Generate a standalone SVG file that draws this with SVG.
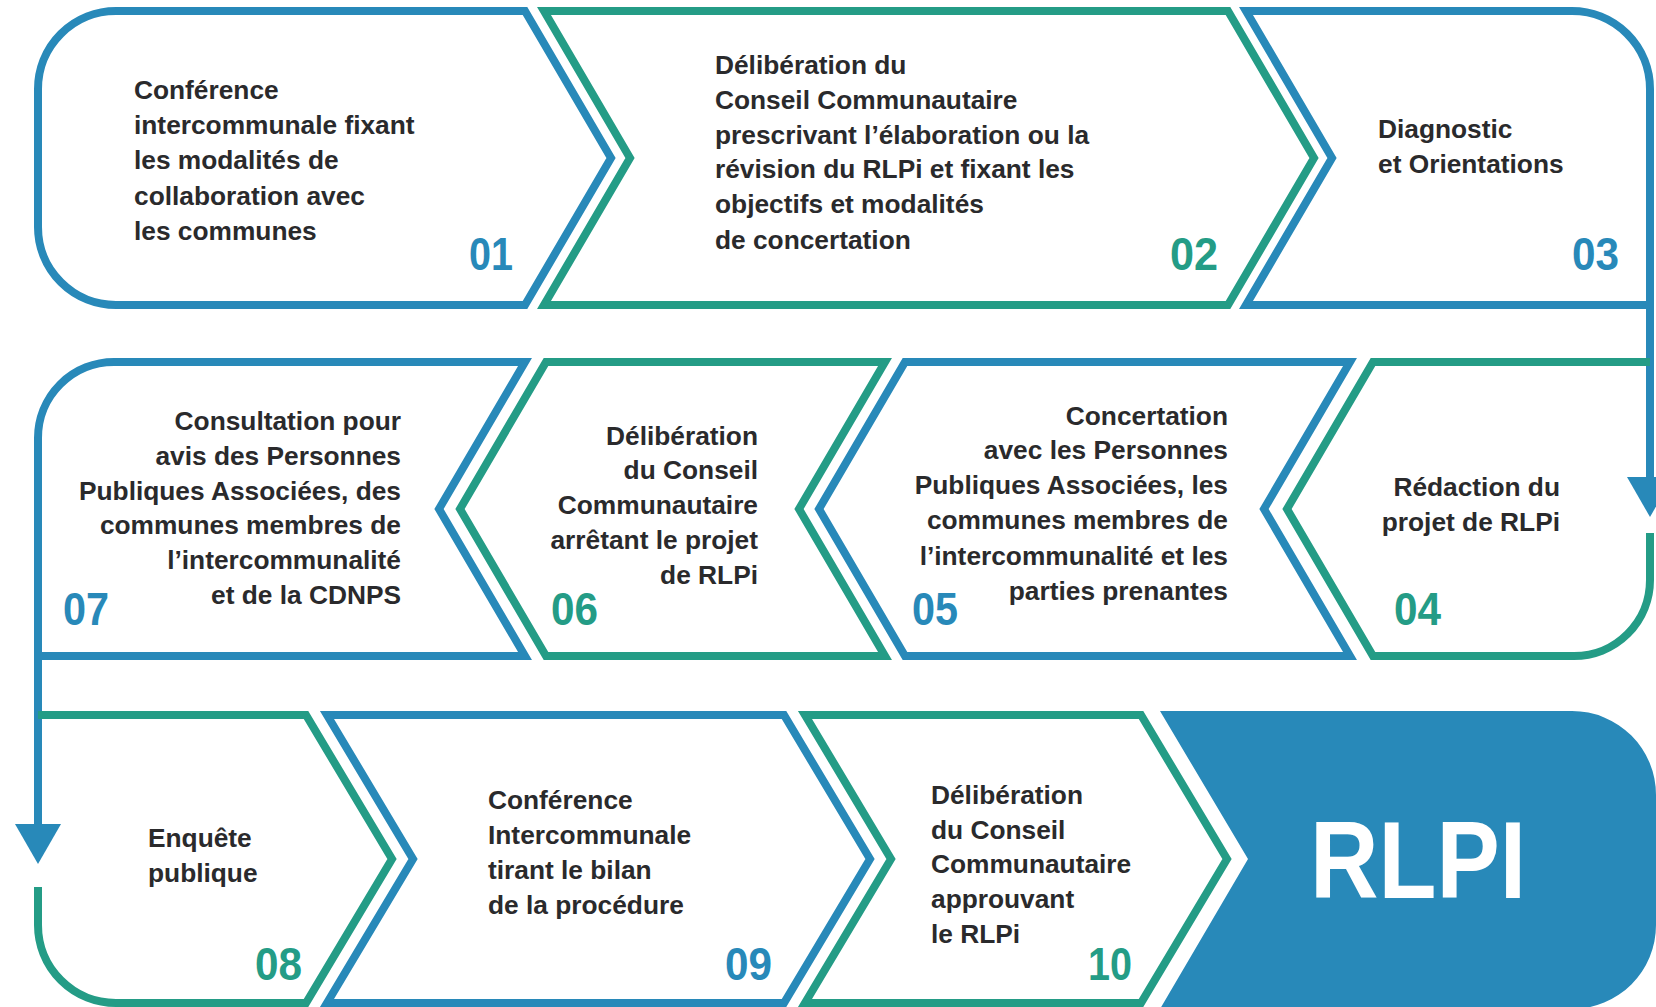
<svg xmlns="http://www.w3.org/2000/svg" width="1656" height="1007" viewBox="0 0 1656 1007">
<style>
.b{fill:none;stroke:#2889b9;stroke-width:8;stroke-linejoin:miter;stroke-miterlimit:10}
.g{fill:none;stroke:#249c86;stroke-width:8;stroke-linejoin:miter;stroke-miterlimit:10}
.t{font-family:"Liberation Sans",Arial,sans-serif;font-weight:bold;font-size:26.3px;fill:#2a2a2c}
.r{text-anchor:end}
.n{font-family:"Liberation Sans",Arial,sans-serif;font-weight:bold;font-size:46px}
.nb{fill:#2889b9}.ng{fill:#249c86}
</style>
<defs>
<marker id="arr" markerUnits="userSpaceOnUse" viewBox="0 -23 40 46" markerWidth="40" markerHeight="46" refX="4" refY="0" orient="auto">
<path d="M0,-23 L40,0 L0,23 Z" fill="#2889b9"/>
</marker>
</defs>
<rect width="1656" height="1007" fill="#ffffff"/>

<g id="connectors">
<line x1="1650" y1="300" x2="1650" y2="481" stroke="#2889b9" stroke-width="8" marker-end="url(#arr)"/>
<line x1="38" y1="652" x2="38" y2="828" stroke="#2889b9" stroke-width="8" marker-end="url(#arr)"/>
</g>

<g id="n01">
<path class="b" d="M525,11 L611,158 L525,305 L116,305 A78,78 0 0 1 38,227 L38,89 A78,78 0 0 1 116,11 Z"/>
<text class="t" x="134" y="99">Conférence</text>
<text class="t" x="134" y="134">intercommunale fixant</text>
<text class="t" x="134" y="169">les modalités de</text>
<text class="t" x="134" y="205">collaboration avec</text>
<text class="t" x="134" y="240">les communes</text>
<text class="n nb" x="469" y="270" textLength="44" lengthAdjust="spacingAndGlyphs">01</text>
</g>

<g id="n02">
<path class="g" d="M544,11 L1228,11 L1314,158 L1228,305 L544,305 L630,158 Z"/>
<text class="t" x="715" y="74">Délibération du</text>
<text class="t" x="715" y="109">Conseil Communautaire</text>
<text class="t" x="715" y="144">prescrivant l’élaboration ou la</text>
<text class="t" x="715" y="178">révision du RLPi et fixant les</text>
<text class="t" x="715" y="213">objectifs et modalités</text>
<text class="t" x="715" y="249">de concertation</text>
<text class="n ng" x="1170" y="270" textLength="48" lengthAdjust="spacingAndGlyphs">02</text>
</g>

<g id="n03">
<path class="b" d="M1650,305 L1246,305 L1332,158 L1246,11 L1572,11 A78,78 0 0 1 1650,89 Z"/>
<text class="t" x="1378" y="138">Diagnostic</text>
<text class="t" x="1378" y="173">et Orientations</text>
<text class="n nb" x="1572" y="270" textLength="47" lengthAdjust="spacingAndGlyphs">03</text>
</g>

<g id="n04">
<path class="g" d="M1650,533 L1650,580 A76,76 0 0 1 1574,656 L1373,656 L1287,509 L1373,362 L1650,362"/>
<text class="t r" x="1560" y="496">Rédaction du</text>
<text class="t r" x="1560" y="531">projet de RLPi</text>
<text class="n ng" x="1394" y="625" textLength="47" lengthAdjust="spacingAndGlyphs">04</text>
</g>

<g id="n05">
<path class="b" d="M1350,362 L1264,509 L1350,656 L905,656 L819,509 L905,362 Z"/>
<text class="t r" x="1228" y="425">Concertation</text>
<text class="t r" x="1228" y="459">avec les Personnes</text>
<text class="t r" x="1228" y="494">Publiques Associées, les</text>
<text class="t r" x="1228" y="529">communes membres de</text>
<text class="t r" x="1228" y="565">l’intercommunalité et les</text>
<text class="t r" x="1228" y="600">parties prenantes</text>
<text class="n nb" x="912" y="625" textLength="46" lengthAdjust="spacingAndGlyphs">05</text>
</g>

<g id="n06">
<path class="g" d="M885,362 L799,509 L885,656 L546,656 L460,509 L546,362 Z"/>
<text class="t r" x="758" y="445">Délibération</text>
<text class="t r" x="758" y="479">du Conseil</text>
<text class="t r" x="758" y="514">Communautaire</text>
<text class="t r" x="758" y="549">arrêtant le projet</text>
<text class="t r" x="758" y="584">de RLPi</text>
<text class="n ng" x="551" y="625" textLength="47" lengthAdjust="spacingAndGlyphs">06</text>
</g>

<g id="n07">
<path class="b" d="M38,656 L525,656 L439,509 L525,362 L114,362 A76,76 0 0 0 38,438 Z"/>
<text class="t r" x="401" y="430">Consultation pour</text>
<text class="t r" x="401" y="465">avis des Personnes</text>
<text class="t r" x="401" y="500">Publiques Associées, des</text>
<text class="t r" x="401" y="534">communes membres de</text>
<text class="t r" x="401" y="569">l’intercommunalité</text>
<text class="t r" x="401" y="604">et de la CDNPS</text>
<text class="n nb" x="63" y="625" textLength="46" lengthAdjust="spacingAndGlyphs">07</text>
</g>

<g id="n08">
<path class="g" d="M38,887 L38,925 A78,78 0 0 0 116,1003 L306,1003 L392,859 L306,715 L38,715"/>
<text class="t" x="148" y="847">Enquête</text>
<text class="t" x="148" y="882">publique</text>
<text class="n ng" x="255" y="980" textLength="47" lengthAdjust="spacingAndGlyphs">08</text>
</g>

<g id="n09">
<path class="b" d="M327,715 L784,715 L870,859 L784,1003 L327,1003 L413,859 Z"/>
<text class="t" x="488" y="809">Conférence</text>
<text class="t" x="488" y="844">Intercommunale</text>
<text class="t" x="488" y="879">tirant le bilan</text>
<text class="t" x="488" y="914">de la procédure</text>
<text class="n nb" x="725" y="980" textLength="47" lengthAdjust="spacingAndGlyphs">09</text>
</g>

<g id="n10">
<path class="g" d="M805,715 L1141,715 L1227,859 L1141,1003 L805,1003 L891,859 Z"/>
<text class="t" x="931" y="804">Délibération</text>
<text class="t" x="931" y="839">du Conseil</text>
<text class="t" x="931" y="873">Communautaire</text>
<text class="t" x="931" y="908">approuvant</text>
<text class="t" x="931" y="943">le RLPi</text>
<text class="n ng" x="1088" y="980" textLength="44" lengthAdjust="spacingAndGlyphs">10</text>
</g>

<g id="rlpi">
<path d="M1160,711 L1572,711 A84,84 0 0 1 1656,795 L1656,925 A84,84 0 0 1 1572,1009 L1160,1009 L1248,859 Z" fill="#2889b9"/>
<text x="1310" y="898" font-family="Liberation Sans,Arial,sans-serif" font-weight="bold" font-size="110" fill="#ffffff" textLength="216" lengthAdjust="spacingAndGlyphs">RLPI</text>
</g>
</svg>
